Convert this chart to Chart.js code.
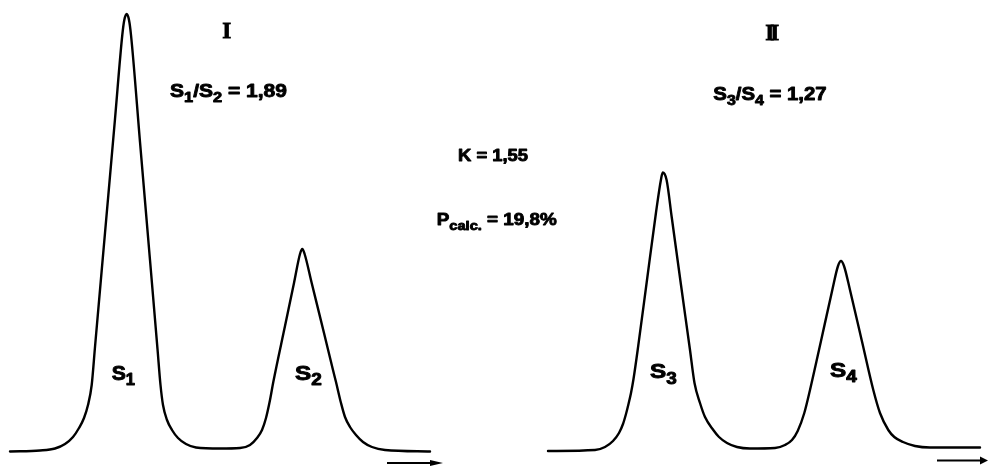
<!DOCTYPE html>
<html><head><meta charset="utf-8">
<script src="https://cdn.jsdelivr.net/npm/chart.js@4/dist/chart.umd.min.js"></script>
<style>html,body{margin:0;padding:0;background:#fff;}canvas{display:block;}</style>
</head><body>
<canvas id="c" width="989" height="466"></canvas>
<script>
// ---- data (time: arbitrary units, signal: arbitrary units) ----
const timeI = [1.0, 4.0, 5.5, 6.5, 7.3, 7.9, 8.4, 8.8, 9.17, 9.5, 10.5, 11.5, 12.23, 12.43, 12.67, 12.9, 13.1, 14.0, 15.0, 15.75, 16.05, 16.3, 16.7, 17.2, 17.8, 18.6, 19.6, 22.0, 24.0, 25.0, 25.7, 26.2, 26.6, 27.0, 27.33, 28.5, 29.4, 30.0, 30.23, 30.46, 31.17, 32.4, 33.3, 33.6, 34.1, 34.5, 35.0, 35.6, 36.3, 37.2, 38.5, 43.0];
const signalI = [0.05, 0.15, 0.35, 0.8, 1.5, 2.4, 3.4, 4.7, 6.7, 10.5, 21.9, 33.3, 41.7, 43.2, 43.8, 43.2, 41.7, 31.0, 19.2, 10.3, 6.7, 4.7, 3.2, 2.2, 1.4, 0.8, 0.45, 0.35, 0.4, 0.7, 1.4, 2.2, 3.4, 5.2, 7.0, 12.6, 16.9, 19.8, 20.3, 19.8, 16.9, 11.9, 8.2, 7.0, 4.9, 3.5, 2.5, 1.7, 1.0, 0.5, 0.2, 0.05];
const timeII = [54.8, 59.5, 60.5, 61.3, 61.9, 62.3, 62.6, 62.85, 63.1, 63.35, 63.83, 64.7, 65.6, 66.09, 66.27, 66.66, 67.17, 68.1, 69.0, 69.45, 70.0, 70.5, 71.33, 71.9, 72.7, 73.7, 75.0, 77.5, 78.5, 79.2, 79.77, 80.43, 81.0, 82.1, 83.23, 83.8, 84.1, 84.4, 85.0, 86.2, 87.33, 88.0, 88.83, 89.43, 90.3, 91.5, 93.0, 98.0];
const signalII = [0.1, 0.2, 0.5, 1.1, 1.9, 2.8, 3.8, 4.8, 5.9, 7.3, 10.66, 17.2, 23.95, 27.2, 27.95, 27.2, 23.5, 16.7, 10.2, 6.9, 4.9, 3.5, 2.2, 1.5, 0.9, 0.5, 0.35, 0.4, 0.7, 1.2, 2.1, 3.9, 6.2, 11.1, 16.2, 18.6, 19.1, 18.6, 16.2, 11.05, 6.2, 3.9, 2.2, 1.5, 1.0, 0.6, 0.45, 0.45];

// ---- texts ----
const panelTitles = ['I', 'II'];
const ratioTexts = ['S_{1}/S_{2} = 1,89', 'S_{3}/S_{4} = 1,27'];
const peakNames = ['S_{1}', 'S_{2}', 'S_{3}', 'S_{4}'];
const centreTexts = ['K = 1,55', 'P_{calc.} = 19,8%'];

// ---- annotation layout (in axis units) ----
const titlePos = [{x: 22.67, y: 41.4}, {x: 76.83, y: 41.2}];
const ratioPos = [{x: 17.0, y: 35.53, w: 11.7}, {x: 71.33, y: 35.2, w: 11.34}];
const peakPos = [{x: 11.17, y: 7.2, w: 2.33}, {x: 29.5, y: 7.2, w: 2.67}, {x: 65.0, y: 7.37, w: 2.67}, {x: 83.0, y: 7.53, w: 2.67}];
const centrePos = [{x: 45.8, y: 29.13, w: 7.0}, {x: 43.67, y: 22.7, w: 12.0}];
const arrowPos = [{x0: 38.7, x1: 44.3, y: -1.1, head: 1.3, half: 3}, {x0: 93.7, x1: 98.8, y: -0.85, head: 0.8, half: 4}];

const SANS = '"Liberation Sans", Arial, sans-serif';
const SERIF = '"Liberation Serif", "Times New Roman", serif';

function toPts(xs, ys) { return xs.map((x, i) => ({x: x, y: ys[i]})); }

function parseRich(str) {
  return str.split(/(_\{[^}]*\})/).filter(s => s.length).map(s =>
    s.startsWith('_{') ? {t: s.slice(2, -1), sub: true} : {t: s, sub: false});
}
function richWidth(ctx, parts, size) {
  let w = 0;
  for (const p of parts) {
    ctx.font = 'bold ' + (p.sub ? size * 0.78 : size) + 'px ' + SANS;
    w += ctx.measureText(p.t).width;
  }
  return w;
}
function drawRich(ctx, str, px, py, size, targetW) {
  const parts = parseRich(str);
  const w = richWidth(ctx, parts, size);
  const sx = targetW ? targetW / w : 1;
  ctx.save();
  ctx.translate(px, py);
  ctx.scale(sx, 1);
  ctx.lineWidth = 0.9;
  ctx.lineJoin = 'round';
  let cx = 0;
  for (const p of parts) {
    const s = p.sub ? size * 0.78 : size;
    ctx.font = 'bold ' + s + 'px ' + SANS;
    const dy = p.sub ? size * 0.27 : 0;
    ctx.fillText(p.t, cx, dy);
    ctx.strokeText(p.t, cx, dy);
    cx += ctx.measureText(p.t).width;
  }
  ctx.restore();
}

const annotations = {
  id: 'annotations',
  beforeDraw(chart) {
    const ctx = chart.ctx;
    ctx.save();
    ctx.fillStyle = '#fff';
    ctx.fillRect(0, 0, chart.width, chart.height);
    ctx.restore();
  },
  afterDatasetsDraw(chart) {
    const ctx = chart.ctx, xs = chart.scales.x, ys = chart.scales.y;
    const X = v => xs.getPixelForValue(v), Y = v => ys.getPixelForValue(v);
    ctx.save();
    ctx.fillStyle = '#000';
    ctx.strokeStyle = '#000';
    ctx.textBaseline = 'alphabetic';
    // panel titles (roman numerals)
    panelTitles.forEach((t, i) => {
      ctx.font = 'bold 23px ' + SERIF;
      ctx.textAlign = 'center';
      ctx.lineWidth = 0.8;
      if ('letterSpacing' in ctx) ctx.letterSpacing = t.length > 1 ? '-4px' : '0px';
      const px = X(titlePos[i].x) + (t.length > 1 ? 2 : 0), py = Y(titlePos[i].y);
      ctx.fillText(t, px, py);
      ctx.strokeText(t, px, py);
      if ('letterSpacing' in ctx) ctx.letterSpacing = '0px';
    });
    ctx.textAlign = 'left';
    ratioTexts.forEach((t, i) => {
      const p = ratioPos[i];
      drawRich(ctx, t, X(p.x), Y(p.y), 19, X(p.x + p.w) - X(p.x));
    });
    peakNames.forEach((t, i) => {
      const p = peakPos[i];
      drawRich(ctx, t, X(p.x), Y(p.y), 20, X(p.x + p.w) - X(p.x));
    });
    centreTexts.forEach((t, i) => {
      const p = centrePos[i];
      drawRich(ctx, t, X(p.x), Y(p.y), 17, X(p.x + p.w) - X(p.x));
    });
    // direction arrows
    arrowPos.forEach(a => {
      const x0 = X(a.x0), x1 = X(a.x1), y = Y(a.y), hx = X(a.x1 - a.head);
      ctx.lineWidth = 2;
      ctx.beginPath();
      ctx.moveTo(x0, y);
      ctx.lineTo(hx + 1, y);
      ctx.stroke();
      ctx.beginPath();
      ctx.moveTo(x1, y);
      ctx.lineTo(hx, y - a.half);
      ctx.lineTo(hx, y + a.half);
      ctx.closePath();
      ctx.fill();
    });
    ctx.restore();
  }
};

const lineStyle = {
  showLine: true,
  borderColor: '#000',
  borderWidth: 2.4,
  pointRadius: 0,
  pointHoverRadius: 0,
  fill: false,
  cubicInterpolationMode: 'monotone',
  borderCapStyle: 'round',
  borderJoinStyle: 'round'
};

new Chart(document.getElementById('c'), {
  type: 'scatter',
  data: {
    datasets: [
      Object.assign({label: 'Chromatogram I', data: toPts(timeI, signalI)}, lineStyle),
      Object.assign({label: 'Chromatogram II', data: toPts(timeII, signalII)}, lineStyle)
    ]
  },
  options: {
    responsive: false,
    animation: false,
    devicePixelRatio: 1,
    layout: {padding: 0},
    events: [],
    scales: {
      x: {type: 'linear', min: 0, max: 98.9, display: false},
      y: {type: 'linear', min: -1.4, max: 45.2, display: false}
    },
    plugins: {legend: {display: false}, tooltip: {enabled: false}, title: {display: false}}
  },
  plugins: [annotations]
});
</script>
</body></html>
